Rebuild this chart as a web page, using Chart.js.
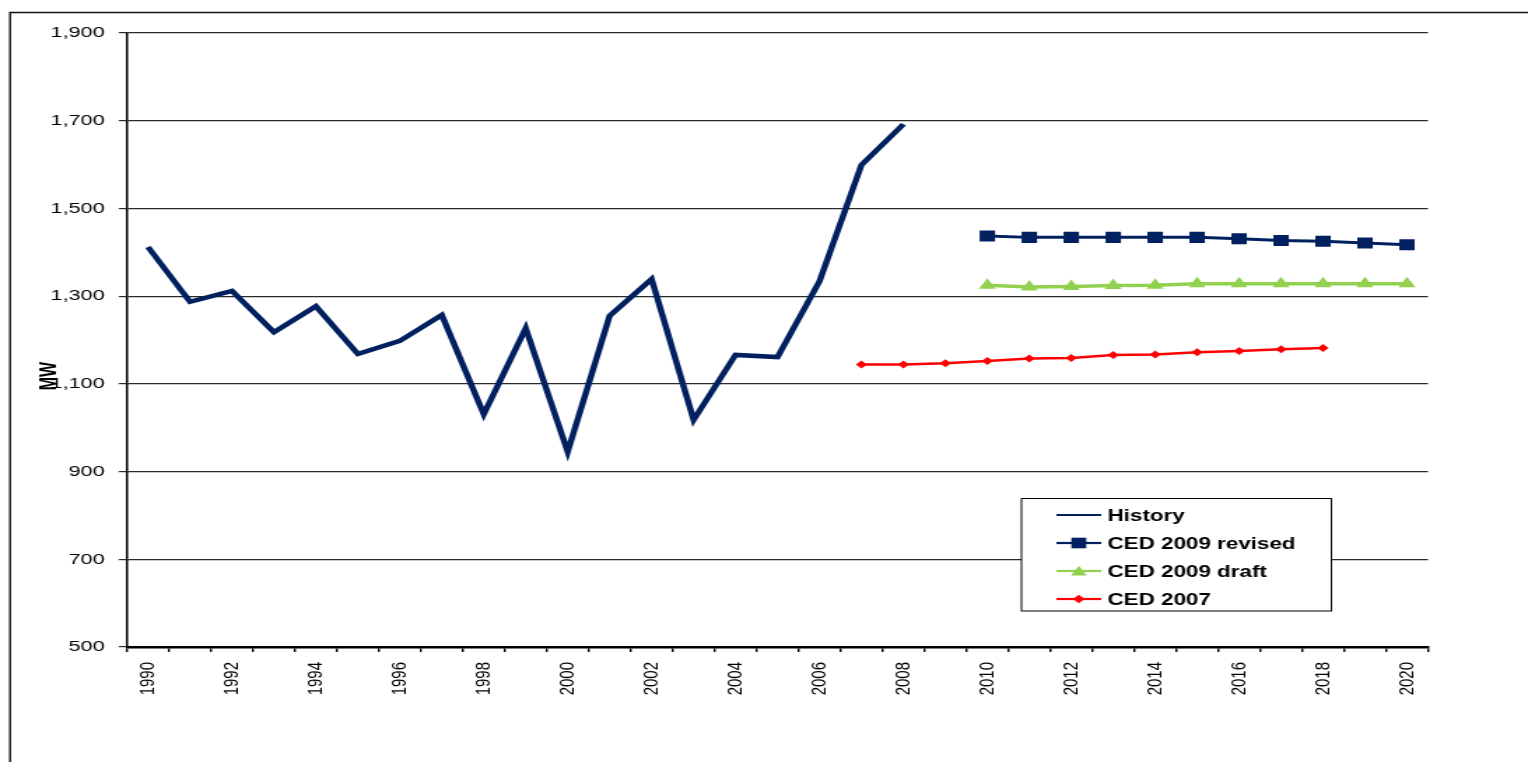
<!DOCTYPE html>
<html><head><meta charset="utf-8">
<script src="https://cdn.jsdelivr.net/npm/chart.js@4/dist/chart.umd.min.js"></script>
<style>html,body{margin:0;padding:0;background:#fff;overflow:hidden}</style>
</head><body>
<canvas id="c" width="1092" height="762" style="display:block;width:1528px;height:762px"></canvas>
<script>
// ---- data ----
const categories = ['1990','1991','1992','1993','1994','1995','1996','1997','1998','1999','2000','2001','2002','2003','2004','2005','2006','2007','2008','2009','2010','2011','2012','2013','2014','2015','2016','2017','2018','2019','2020'];
const xTickLabels = ['1990','','1992','','1994','','1996','','1998','','2000','','2002','','2004','','2006','','2008','','2010','','2012','','2014','','2016','','2018','','2020'];
const yTickValues = [500, 700, 900, 1100, 1300, 1500, 1700, 1900];

const historyStart = '1990';
const historyValues = [1412,1287,1312,1218,1277,1168,1198,1257,1031,1227,945,1255,1339,1018,1166,1161,1334,1599,1692];
const revisedStart = '2010';
const revisedValues = [1437,1434,1434,1434,1434,1434,1431,1427,1425,1421,1417];
const draftStart = '2010';
const draftValues = [1325,1321,1322,1324,1325,1328,1328,1328,1328,1328,1328];
const ced2007Start = '2007';
const ced2007Values = [1144,1144,1147,1152,1158,1159,1166,1167,1172,1175,1179,1182];

const seriesLabels = ['History','CED 2009 revised','CED 2009 draft','CED 2007'];
const yAxisTitle = 'MW';

// align a series onto the category axis
function place(start, values) {
  const out = categories.map(() => null);
  const s = categories.indexOf(start);
  values.forEach((v, i) => { out[s + i] = v; });
  return out;
}

const FONT = '"Liberation Sans", Arial, Helvetica, sans-serif';
Chart.defaults.font.family = FONT;
Chart.defaults.font.size = 15;
Chart.defaults.color = '#000';

const NAVY = '#002060', GREEN = '#92D050', RED = '#FF0000';

function marker(ctx, style, r, x, y) {
  ctx.beginPath();
  if (style === 'rect') {
    const s = r * Math.SQRT1_2;
    ctx.rect(x - s, y - s, 2 * s, 2 * s);
  } else if (style === 'triangle') {
    ctx.moveTo(x, y - r);
    ctx.lineTo(x + r * 0.866, y + r * 0.5);
    ctx.lineTo(x - r * 0.866, y + r * 0.5);
    ctx.closePath();
  } else if (style === 'rectRot') {
    ctx.moveTo(x, y - r); ctx.lineTo(x + r, y); ctx.lineTo(x, y + r); ctx.lineTo(x - r, y); ctx.closePath();
  }
  ctx.fill();
}

const framePlugin = {
  id: 'frame',
  beforeDraw(chart) {
    const ctx = chart.ctx;
    ctx.save();
    ctx.strokeStyle = '#111';
    ctx.lineWidth = 1.4;
    ctx.beginPath();
    ctx.moveTo(7.2, 762); ctx.lineTo(7.2, 12.5); ctx.lineTo(1092, 12.5);
    ctx.stroke();
    ctx.restore();
  },
  afterDraw(chart) {
    const ctx = chart.ctx;
    ctx.save();
    ctx.font = 'bold 16px ' + FONT;
    ctx.translate(35.5, 376);
    ctx.rotate(-Math.PI / 2);
    ctx.fillStyle = '#000';
    ctx.textAlign = 'center';
    ctx.textBaseline = 'middle';
    ctx.fillText(yAxisTitle, 0, 0);
    ctx.restore();

    // legend box
    ctx.save();
    const L = 730, T = 498.5, R = 951.5, B = 611;
    ctx.fillStyle = '#fff';
    ctx.fillRect(L, T, R - L, B - T);
    ctx.strokeStyle = '#000';
    ctx.lineWidth = 1;
    ctx.strokeRect(L, T, R - L, B - T);
    chart.data.datasets.forEach((ds, i) => {
      const y = 515 + i * 28;
      ctx.strokeStyle = ds.borderColor;
      ctx.lineWidth = ds.legendLineWidth;
      ctx.beginPath(); ctx.moveTo(755, y); ctx.lineTo(787, y); ctx.stroke();
      if (ds.legendRadius) {
        ctx.fillStyle = ds.pointBackgroundColor;
        marker(ctx, ds.pointStyle, ds.legendRadius, 771, y + (ds.pointStyle === 'triangle' ? 1.2 : 0));
      }
      ctx.fillStyle = '#000';
      ctx.font = 'bold 16px ' + FONT;
      ctx.textAlign = 'left';
      ctx.textBaseline = 'middle';
      ctx.fillText(ds.label, 791.5, y + 1.5);
    });
    ctx.restore();
  }
};

new Chart(document.getElementById('c'), {
  type: 'line',
  data: {
    labels: categories,
    datasets: [
      { label: seriesLabels[0], data: place(historyStart, historyValues), borderColor: NAVY, backgroundColor: NAVY,
        borderWidth: 4.5, pointRadius: 0, legendLineWidth: 2, legendRadius: 0 },
      { label: seriesLabels[1], data: place(revisedStart, revisedValues), borderColor: NAVY, backgroundColor: NAVY,
        pointBackgroundColor: NAVY, pointBorderWidth: 0, borderWidth: 3, pointStyle: 'rect', pointRadius: 7.8, legendLineWidth: 2.2, legendRadius: 7.5 },
      { label: seriesLabels[2], data: place(draftStart, draftValues), borderColor: GREEN, backgroundColor: GREEN,
        pointBackgroundColor: GREEN, pointBorderWidth: 0, borderWidth: 3.5, pointStyle: 'triangle', pointRadius: 7, legendLineWidth: 2.2, legendRadius: 6.5 },
      { label: seriesLabels[3], data: place(ced2007Start, ced2007Values), borderColor: RED, backgroundColor: RED,
        pointBackgroundColor: RED, pointBorderWidth: 0, borderWidth: 2.5, pointStyle: 'rectRot', pointRadius: 4, legendLineWidth: 2.2, legendRadius: 4.2 }
    ]
  },
  options: {
    responsive: false,
    animation: false,
    devicePixelRatio: 1,
    spanGaps: false,
    layout: { padding: { top: 33, left: 0, right: 71.5, bottom: 0 } },
    plugins: { legend: { display: false }, tooltip: { enabled: false } },
    scales: {
      x: {
        type: 'category',
        offset: true,
        grid: { offset: true, drawOnChartArea: false, drawTicks: true, tickLength: 5, color: '#000', lineWidth: 1.4 },
        border: { display: true, color: '#000', width: 2.5 },
        ticks: {
          autoSkip: false, minRotation: 90, maxRotation: 90, padding: 10,
          font: { family: FONT, size: 15 }, color: '#000',
          callback: (v, i) => xTickLabels[i]
        },
        afterFit: (s) => { s.height = 115; }
      },
      y: {
        min: yTickValues[0], max: yTickValues[yTickValues.length - 1],
        afterBuildTicks: (s) => { s.ticks = yTickValues.map(v => ({ value: v })); },
        grid: { color: '#2a2a2a', lineWidth: 1.2, tickLength: 6, drawTicks: true },
        border: { display: true, color: '#000', width: 1.5 },
        ticks: { padding: 10, font: { family: FONT, size: 15.5 }, color: '#000',
          callback: (v) => Number(v).toLocaleString('en-US') },
        afterFit: (s) => { s.width = 90.8; }
      }
    }
  },
  plugins: [framePlugin]
});
</script>
</body></html>
